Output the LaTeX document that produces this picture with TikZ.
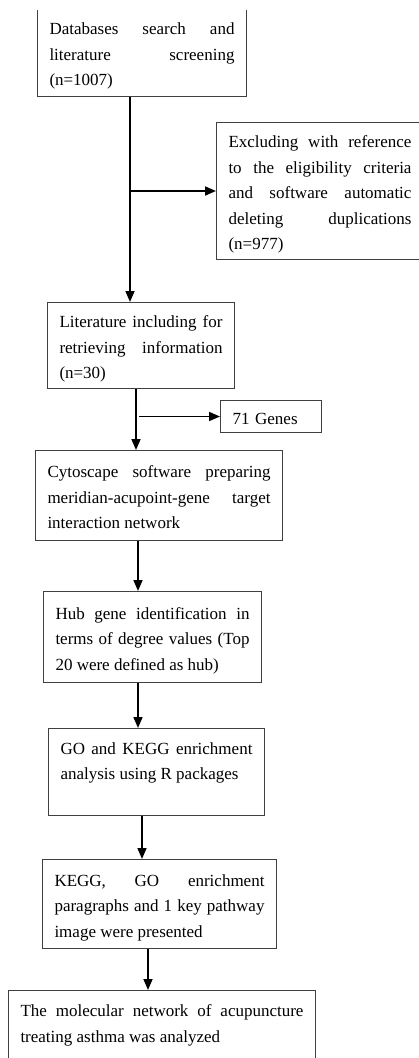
\documentclass[tikz,border=0pt]{standalone}
\usepackage{fontspec}
\setmainfont{Liberation Serif}
\usetikzlibrary{arrows.meta}

\begin{document}
\begin{tikzpicture}[x=1pt,y=-1pt,
        box/.style={draw=black!75,line width=1pt,anchor=north west,inner xsep=12pt,inner ysep=0pt,
            align=justify,font=\fontsize{17}{25.5}\selectfont,
            execute at begin node={\rule{0pt}{21pt}},execute at end node={\rule[-6pt]{0pt}{0pt}}},
        flow/.style={line width=1.7pt,-{Triangle[length=11pt,width=9pt]}}]
        \useasboundingbox (0,0) rectangle (419,1058);
        \clip (0,10) rectangle (419,1058);
        \node[box,text width=185pt,minimum height=88pt] (search) at (37,8)
            {Databases search and\linebreak literature screening\linebreak (n=1007)};
        \node[box,text width=183pt,minimum height=137pt] (exclude) at (216,122)
            {Excluding with reference\linebreak to the eligibility criteria\linebreak and software automatic\linebreak deleting duplications\linebreak (n=977)};
        \node[box,text width=163pt,minimum height=86pt] (include) at (47,302)
            {Literature including for\linebreak retrieving information\linebreak (n=30)};
        \node[box,text width=77pt,minimum height=32pt,align=left] (genes) at (220,400) {71 Genes};
        \node[box,text width=223pt,minimum height=90pt] (network) at (35,450)
            {Cytoscape software preparing\linebreak meridian-acupoint-gene target\linebreak interaction network};
        \node[box,text width=194pt,minimum height=91pt] (hub) at (43,591)
            {Hub gene identification in\linebreak terms of degree values (Top\linebreak 20 were defined as hub)};
        \node[box,text width=192pt,minimum height=87pt] (enrich) at (48,728)
            {GO and KEGG enrichment\linebreak analysis using R packages\\\mbox{}};
        \node[box,text width=210pt,minimum height=89pt] (pathway) at (42,859)
            {KEGG, GO enrichment\linebreak paragraphs and 1 key pathway\linebreak image were presented};
        \node[box,text width=283pt,minimum height=88pt] (result) at (8,990)
            {The molecular network of acupuncture\linebreak treating asthma was analyzed\\\mbox{}};
        \coordinate (trunkA) at (130,0);
        \coordinate (trunkB) at (136,0);
        \coordinate (trunkC) at (138,0);
        \coordinate (trunkD) at (142,0);
        \coordinate (trunkE) at (148,0);
        \draw[flow] (search.south -| trunkA) -- (include.north -| trunkA);
        \draw[flow] (exclude.west -| trunkA) -- (exclude.west);
        \draw[flow] (include.south -| trunkB) -- (network.north -| trunkB);
        \draw[flow] ([xshift=3pt]genes.west -| trunkB) -- (genes.west);
        \draw[flow] (network.south -| trunkC) -- (hub.north -| trunkC);
        \draw[flow] (hub.south -| trunkC) -- (enrich.north -| trunkC);
        \draw[flow] (enrich.south -| trunkD) -- (pathway.north -| trunkD);
        \draw[flow] (pathway.south -| trunkE) -- (result.north -| trunkE);
\end{tikzpicture}
\end{document}
